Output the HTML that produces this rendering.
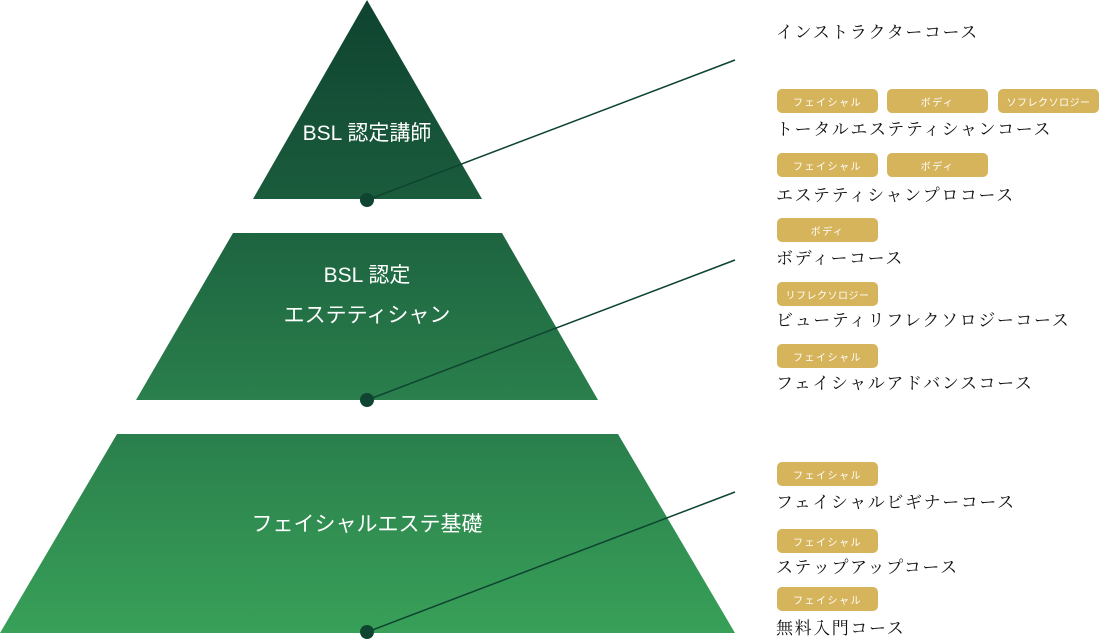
<!DOCTYPE html>
<html><head><meta charset="utf-8"><style>
body{margin:0;width:1100px;height:640px;background:#fff;position:relative;overflow:hidden}
.b{position:absolute;width:101px;height:24px;box-sizing:border-box;padding-top:5px;background:#d6b45c;border-radius:5px;color:#fff;font:10px "Liberation Sans","Noto Sans CJK JP",sans-serif;letter-spacing:1.5px;display:flex;align-items:center;justify-content:center;line-height:1}
.t{position:absolute;left:776px;font:17px "Liberation Serif","Noto Serif CJK JP",serif;letter-spacing:1.6px;color:#111;line-height:20px;white-space:nowrap}
svg{position:absolute;left:0;top:0}
</style></head><body>
<svg width="1100" height="640">
<defs>
<linearGradient id="g1" x1="0" y1="0" x2="0" y2="1"><stop offset="0" stop-color="#0e4330"/><stop offset="1" stop-color="#1b5c3d"/></linearGradient>
<linearGradient id="g2" x1="0" y1="0" x2="0" y2="1"><stop offset="0" stop-color="#1d6440"/><stop offset="1" stop-color="#2a7f4c"/></linearGradient>
<linearGradient id="g3" x1="0" y1="0" x2="0" y2="1"><stop offset="0" stop-color="#2a7f4c"/><stop offset="1" stop-color="#38a058"/></linearGradient>
</defs>
<polygon points="367,0 482,199 253,199" fill="url(#g1)"/>
<polygon points="233,233 502,233 598,400 136,400" fill="url(#g2)"/>
<polygon points="117,434 618,434 735,633 0,633" fill="url(#g3)"/>
<g font-family="Liberation Sans,Noto Sans CJK JP,sans-serif" fill="#fff" font-size="21" text-anchor="middle">
<text x="367" y="140">BSL 認定講師</text>
<text x="367" y="282">BSL 認定</text>
<text x="367" y="322">エステティシャン</text>
<text x="367" y="531">フェイシャルエステ基礎</text>
</g>
<g stroke="#0e4430" stroke-width="1.5">
<line x1="367" y1="200" x2="735" y2="60"/>
<line x1="367" y1="400" x2="735" y2="260"/>
<line x1="367" y1="632" x2="735" y2="492"/>
</g>
<g fill="#0e4430"><circle cx="367" cy="200" r="7"/><circle cx="367" cy="400" r="7"/><circle cx="367" cy="632" r="7"/></g>
</svg>
<div class="t" style="top:23px">インストラクターコース</div>
<div class="b" style="left:777px;top:89px">フェイシャル</div>
<div class="b" style="left:887px;top:89px">ボディ</div>
<div class="b" style="left:998px;top:89px;letter-spacing:.5px">ソフレクソロジー</div>
<div class="t" style="top:120px">トータルエステティシャンコース</div>
<div class="b" style="left:777px;top:153px">フェイシャル</div>
<div class="b" style="left:887px;top:153px">ボディ</div>
<div class="t" style="top:186px">エステティシャンプロコース</div>
<div class="b" style="left:777px;top:218px">ボディ</div>
<div class="t" style="top:249px">ボディーコース</div>
<div class="b" style="left:777px;top:282px;letter-spacing:.5px">リフレクソロジー</div>
<div class="t" style="top:311px">ビューティリフレクソロジーコース</div>
<div class="b" style="left:777px;top:344px">フェイシャル</div>
<div class="t" style="top:374px">フェイシャルアドバンスコース</div>
<div class="b" style="left:777px;top:462px">フェイシャル</div>
<div class="t" style="top:493px">フェイシャルビギナーコース</div>
<div class="b" style="left:777px;top:529px">フェイシャル</div>
<div class="t" style="top:558px">ステップアップコース</div>
<div class="b" style="left:777px;top:587px">フェイシャル</div>
<div class="t" style="top:619px">無料入門コース</div>
</body></html>
